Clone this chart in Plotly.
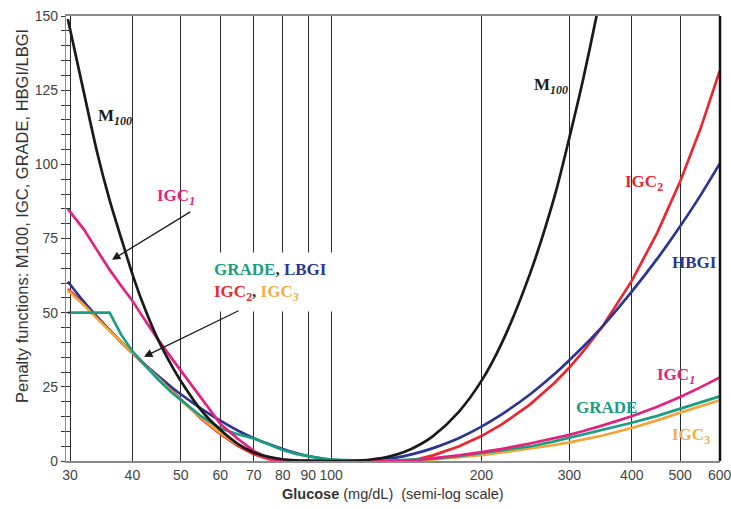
import math
import plotly.graph_objects as go

# ---------------- data ----------------
glucose = [29.7, 32, 34, 36, 38, 40, 42, 45, 48, 50, 55, 60, 65, 70, 75, 80, 85, 90, 95, 100,
           110, 120, 130, 140, 150, 160, 180, 200, 220, 250, 280, 300, 320, 340, 350,
           400, 450, 500, 550, 600]

m100 = [149, 124, 104, 88, 75, 63, 53, 41, 32, 27, 17, 10.5, 5.8, 2.9, 1.4, 0.6, 0.25, 0.1, 0.02, 0,
        0.07, 0.5, 1.4, 3.0, 5.4, 8.4, 16.5, 27, 40, 63, 89, 109, 129, 150, 161,
        None, None, None, None, None]

igc1 = [85, 78, 71, 64.5, 59, 54, 48.5, 41, 34.5, 30.5, 21, 12.5, 7.5, 3.4, 0.9, 0, 0, 0, 0, 0,
        0, 0, 0, 0, 0.4, 0.9, 1.9, 3.0, 4.1, 5.9, 7.6, 8.8, 10.1, 11.3, 12.0,
        15.1, 18.3, 21.6, 24.9, 28.2]

igc2 = [58, 53, 48.5, 44, 40, 36.4, 33, 28, 23.4, 20.5, 14.2, 9.1, 5.1, 2.3, 0.6, 0, 0, 0, 0, 0,
        0, 0, 0, 0, 0.75, 1.9, 4.9, 8.4, 12.4, 19.0, 26.3, 31.5, 37.0, 42.6, 45.5,
        60.7, 77.0, 94.2, 112.3, 131.5]

igc3 = [57.5, 52.5, 48, 44, 40, 36.4, 33, 28, 23.5, 20.5, 14.5, 9.5, 5.5, 3.2, 1.0, 0, 0, 0, 0, 0,
        0, 0, 0, 0, 0.2, 0.5, 1.2, 2.0, 2.9, 4.1, 5.4, 6.3, 7.2, 8.1, 8.6,
        11.1, 13.7, 16.3, 18.5, 20.5]

bgi = [60.5, 53.6, 48.6, 44.1, 40.1, 36.4, 33.1, 28.7, 24.8, 22.5, 17.6, 13.6, 10.3, 7.7, 5.7, 4.0, 2.7, 1.7, 1.0, 0.5,
       0.01, 0.15, 0.73, 1.66, 2.9, 4.35, 7.7, 11.6, 15.8, 22.4, 29.3, 34.0, 38.6, 43.2, 45.5,
       57.1, 68.2, 79.1, 89.7, 100.2]

grade = [50, 50, 50, 50, 42.5, 37, 33, 27.5, 23, 20.5, 15, 11, 9, 7.6, 5.5, 3.7, 2.4, 1.5, 0.9, 0.5,
         0.15, 0.05, 0.1, 0.3, 0.5, 0.8, 1.6, 2.6, 3.5, 4.9, 6.6, 7.8, 8.8, 9.9, 10.4,
         12.9, 15.2, 17.7, 19.8, 21.8]

x_ticks = [30, 40, 50, 60, 70, 80, 90, 100, 200, 300, 400, 500, 600]
y_ticks = [0, 25, 50, 75, 100, 125, 150]

# ---------------- styles ----------------
C_BLACK = "#1a1a1a"
C_MAG = "#e3217f"
C_RED = "#ec2630"
C_NAVY = "#2c3592"
C_TEAL = "#1b9e80"
C_ORANGE = "#f4a53a"
SERIF = "Liberation Serif, Times New Roman, serif"
SANS = "Liberation Sans, Arial, sans-serif"

series = [
    ("IGC2", igc2, C_RED, 0.0),
    ("HBGI/LBGI", bgi, C_NAVY, 0.8),
    ("IGC3", igc3, C_ORANGE, 0.0),
    ("GRADE", grade, C_TEAL, 0.0),
    ("IGC1", igc1, C_MAG, 0.0),
    ("M100", m100, C_BLACK, 0.8),
]

fig = go.Figure()
for name, vals, col, sm in series:
    line = dict(color=col, width=2.7)
    if sm > 0:
        line.update(shape="spline", smoothing=sm)
    fig.add_trace(go.Scatter(x=glucose, y=vals, mode="lines", name=name,
                             line=line, showlegend=False, connectgaps=False))

# invisible trace so the overlay axis (inside half of the crossing ticks) is drawn
fig.add_trace(go.Scatter(x=[100], y=[0], yaxis="y2", mode="markers",
                         marker=dict(opacity=0), showlegend=False, hoverinfo="skip"))

lx = lambda v: math.log10(v)

annotations = []
labels = [
    ("<b>M<sub><i>100</i></sub></b>", 36.9, 116, C_BLACK),
    ("<b>M<sub><i>100</i></sub></b>", 276, 126.5, C_BLACK),
    ("<b>IGC<sub><i>1</i></sub></b>", 48.9, 89, C_MAG),
    ("<b>IGC<sub>2</sub></b>", 423, 93.7, C_RED),
    ("<b>HBGI</b>", 535, 67, C_NAVY),
    ("<b>IGC<sub><i>1</i></sub></b>", 490, 28.6, C_MAG),
    ("<b>GRADE</b>", 356, 18.2, C_TEAL),
    ("<b>IGC<sub>3</sub></b>", 525, 8.4, "#eeae4e"),
]
for txt, gx, gy, col in labels:
    annotations.append(dict(x=lx(gx), y=gy, xref="x", yref="y", text=txt, showarrow=False,
                            font=dict(family=SERIF, size=17, color=col),
                            xanchor="center", yanchor="middle"))

box_text = ("<b><span style='color:%s'>GRADE</span>, <span style='color:%s'>LBGI</span></b><br>"
            "<b><span style='color:%s'>IGC<sub>2</sub></span>, <span style='color:%s'>IGC<sub><i>3</i></sub></span></b>"
            % (C_TEAL, C_NAVY, C_RED, "#eeae4e"))
annotations.append(dict(x=lx(75.5), y=60.5, xref="x", yref="y", text=box_text, showarrow=False,
                        align="left", bgcolor="white", borderpad=7,
                        font=dict(family=SERIF, size=17, color="#333"),
                        xanchor="center", yanchor="middle"))

# arrows (head at x,y ; tail at ax,ay)
arrows = [
    (36.4, 67.8, 52.6, 84.3),
    (42.2, 35.1, 65.7, 50.9),
]
for hx, hy, tx, ty in arrows:
    annotations.append(dict(x=lx(hx), y=hy, ax=lx(tx), ay=ty, xref="x", yref="y",
                            axref="x", ayref="y", text="", showarrow=True,
                            arrowhead=2, arrowsize=1.3, arrowwidth=1.3, arrowcolor=C_BLACK,
                            standoff=0, startstandoff=0))

# axis titles as annotations
annotations.append(dict(x=-0.0673, y=0.5506, xref="paper", yref="paper",
                        text="Penalty functions: M100, IGC, GRADE, HBGI/LBGI",
                        textangle=-90, showarrow=False, xanchor="center", yanchor="middle",
                        font=dict(family=SANS, size=16.5, color="#333")))
annotations.append(dict(x=0.5, y=-0.0742, xref="paper", yref="paper",
                        text="<b>Glucose</b> (mg/dL)\u00a0\u00a0(semi-log scale)",
                        showarrow=False, xanchor="center", yanchor="middle",
                        font=dict(family=SANS, size=14.5, color="#333")))

fig.update_layout(
    width=731, height=509,
    margin=dict(l=66, r=11, t=16, b=48, autoexpand=False),
    paper_bgcolor="white", plot_bgcolor="white",
    xaxis=dict(type="log", range=[math.log10(29.45), math.log10(600) + 0.0006],
               tickvals=x_ticks, ticktext=[str(v) for v in x_ticks],
               ticklabeloverflow="allow", automargin=False,
               showgrid=True, gridcolor="#2a2a2a", gridwidth=1,
               ticks="", showline=True, linecolor="#8a8a8a", linewidth=1.5, mirror=True,
               tickfont=dict(family=SANS, size=14, color="#444"), zeroline=False),
    yaxis=dict(range=[0, 150], tickvals=y_ticks, showgrid=False, zeroline=False,
               ticks="outside", ticklen=4, tickcolor="#333", tickwidth=1, automargin=False,
               minor=dict(dtick=5, ticks="outside", ticklen=4, tickcolor="#333"),
               showline=True, linecolor="#8a8a8a", linewidth=1.2,
               tickfont=dict(family=SANS, size=14, color="#444")),
    yaxis2=dict(range=[0, 150], overlaying="y", side="left", anchor="x",
                tickvals=y_ticks, showticklabels=False, showgrid=False, zeroline=False,
                ticks="inside", ticklen=5, tickcolor="#333", tickwidth=1, automargin=False,
                minor=dict(dtick=5, ticks="inside", ticklen=5, tickcolor="#333"),
                showline=False),
    annotations=annotations,
    shapes=[dict(type="line", xref="paper", yref="paper", x0=1, x1=1, y0=0, y1=1,
                 line=dict(color="#111", width=2.5))],
)

fig.write_html("out.html")
